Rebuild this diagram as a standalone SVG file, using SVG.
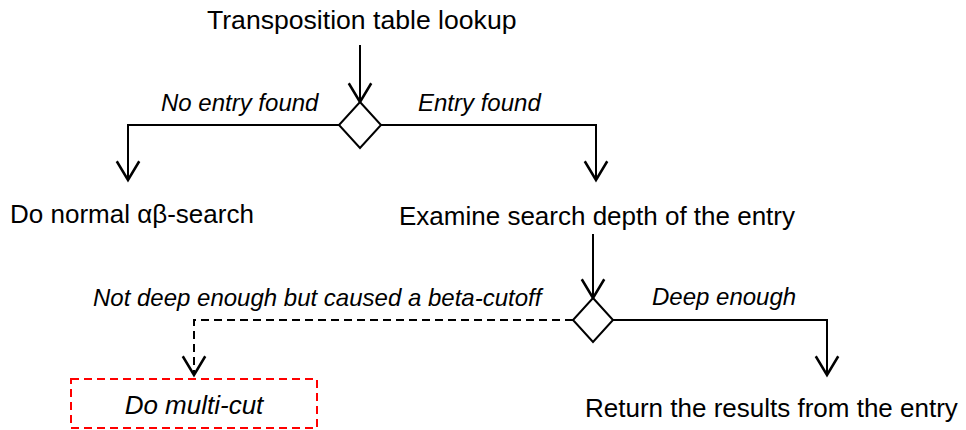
<svg xmlns="http://www.w3.org/2000/svg" width="966" height="430" viewBox="0 0 966 430">
<defs>
<marker id="arr" markerUnits="userSpaceOnUse" markerWidth="30" markerHeight="30" refX="0" refY="0" viewBox="-16 -12 18 24" orient="auto" overflow="visible">
<path d="M-15,-9 L0,0 L-15,9" fill="none" stroke="#000" stroke-width="2"/>
</marker>
</defs>
<style>
.t{font-family:"Liberation Sans",Arial,sans-serif;font-size:26px;fill:#000}
.l{font-family:"Liberation Sans",Arial,sans-serif;font-size:24px;font-style:italic;fill:#000}
.e{fill:none;stroke:#000;stroke-width:2}
.d{fill:none;stroke:#000;stroke-width:2;stroke-dasharray:8,5}
.dia{fill:#fff;stroke:#000;stroke-width:2}
</style>
<rect width="966" height="430" fill="#fff"/>
<g id="connectors">
<path class="e" d="M360,45 V102" marker-end="url(#arr)"/>
<path class="e" d="M339,125 H128 V180" marker-end="url(#arr)"/>
<path class="e" d="M381,125 H596 V180" marker-end="url(#arr)"/>
<path class="e" d="M593,234 V298" marker-end="url(#arr)"/>
<path class="d" d="M573,320 H194 V375" marker-end="url(#arr)"/>
<path class="e" d="M613,320 H827 V375" marker-end="url(#arr)"/>
<text class="l" x="161" y="111">No entry found</text>
<text class="l" x="418" y="111">Entry found</text>
<text class="l" x="93" y="306">Not deep enough but caused a beta-cutoff</text>
<text class="l" x="652" y="305">Deep enough</text>
</g>
<g id="lookup"><text class="t" x="207" y="29" style="font-size:26.6px">Transposition table lookup</text></g>
<g id="decision1"><polygon class="dia" points="360,102 381,125 360,148 339,125"/></g>
<g id="normal"><text class="t" x="10" y="223">Do normal αβ-search</text></g>
<g id="examine"><text class="t" x="399" y="225">Examine search depth of the entry</text></g>
<g id="decision2"><polygon class="dia" points="593,298 613,320 593,342 573,320"/></g>
<g id="multicut">
<rect x="71" y="379" width="246" height="49" fill="none" stroke="#f00" stroke-width="2" stroke-dasharray="8,5"/>
<text class="l" x="194" y="414" text-anchor="middle" style="font-size:26px">Do multi-cut</text>
</g>
<g id="return"><text class="t" x="585" y="417">Return the results from the entry</text></g>
</svg>
